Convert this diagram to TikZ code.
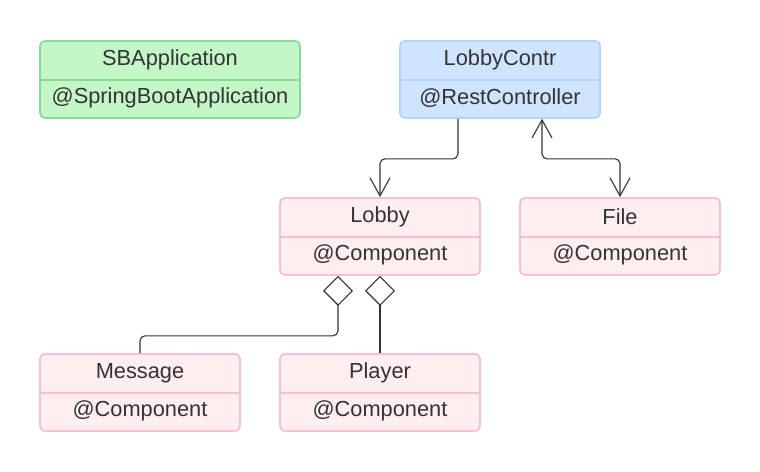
\documentclass[tikz,border=0pt]{standalone}
\usepackage{fontspec}
\setmainfont{Liberation Sans}
\usetikzlibrary{arrows.meta}
\definecolor{txt}{HTML}{333333}
\definecolor{gfill}{HTML}{C3F7C8}
\definecolor{gline}{HTML}{8BDB95}
\definecolor{bfill}{HTML}{CFE4FF}
\definecolor{bline}{HTML}{B3D4F5}
\definecolor{pfill}{HTML}{FFEEF0}
\definecolor{pline}{HTML}{F5BFD6}
\definecolor{lnk}{HTML}{333333}
\tikzset{
  cls/.style={rectangle, rounded corners=5pt, line width=1.8pt, minimum height=77pt, inner sep=0pt},
  lbl/.style={text=txt, font=\fontsize{21.8}{26}\selectfont, inner sep=0pt, anchor=center},
  conn/.style={draw=lnk, line width=1.1pt, rounded corners=5pt},
  tipv/.style={-{Straight Barb[length=18pt,width=20pt,line width=1.1pt]}},
  dtip/.style={{Diamond[open,length=30pt,width=30pt,line width=1.1pt]}-}
}
\newcommand{\umlbox}[7]{% name, x, y(top), width, fill, line, title
  \node[cls, fill=#5, draw=#6, minimum width=#4pt, anchor=north] (#1) at (#2,#3) {};
  \draw[#6, line width=1.8pt] ([yshift=-40pt,xshift=0.9pt]#1.north west) -- ([yshift=-40pt,xshift=-0.9pt]#1.north east);
  \node[lbl] (#1t) at ([yshift=-20pt]#1.north) {#7};
}
\begin{document}
\begin{tikzpicture}[x=1pt,y=-1pt]
\useasboundingbox[fill=white] (0,0) rectangle (760,471);
\umlbox{sb}{170}{40}{260}{gfill}{gline}{SBApplication}
\node[lbl] (sbs) at ([yshift=-58pt]sb.north) {@SpringBootApplication};
\umlbox{lc}{500}{40}{200}{bfill}{bline}{LobbyContr}
\node[lbl] (lcs) at ([yshift=-58pt]lc.north) {@RestController};
\umlbox{lobby}{380}{197}{200}{pfill}{pline}{Lobby}
\node[lbl] (lobbys) at ([yshift=-58pt]lobby.north) {@Component};
\umlbox{file}{620}{197}{200}{pfill}{pline}{File}
\node[lbl] (files) at ([yshift=-58pt]file.north) {@Component};
\umlbox{msg}{140}{353}{200}{pfill}{pline}{Message}
\node[lbl] (msgs) at ([yshift=-58pt]msg.north) {@Component};
\umlbox{player}{380}{353}{200}{pfill}{pline}{Player}
\node[lbl] (players) at ([yshift=-58pt]player.north) {@Component};
% connectors
\draw[conn, tipv] ([xshift=-42pt]lc.south) -- ++(0,40) -| (lobby.north);
\draw[conn, {Straight Barb[length=18pt,width=20pt,line width=1.1pt]}-{Straight Barb[length=18pt,width=20pt,line width=1.1pt]}] ([xshift=42pt]lc.south) -- ++(0,40) -| (file.north);
\draw[conn, dtip] ([xshift=-42pt]lobby.south) -- ++(0,60) -| (msg.north);
\draw[conn, dtip] (lobby.south) -- (player.north);
\end{tikzpicture}
\end{document}
